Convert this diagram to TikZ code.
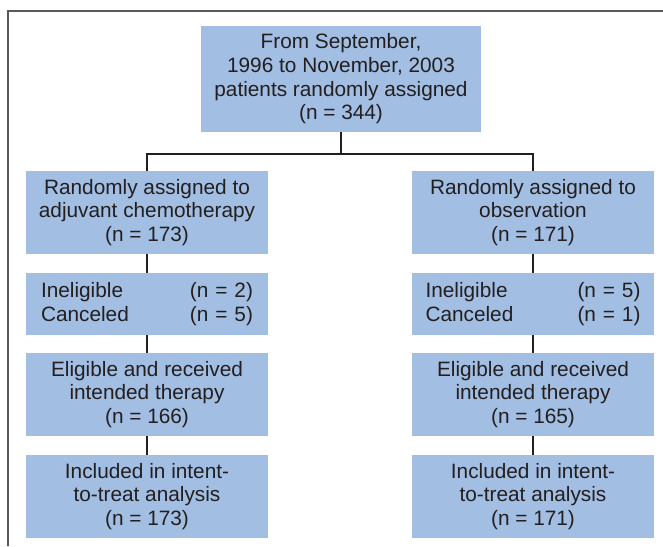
\documentclass[tikz,border=0pt]{standalone}
\usepackage{fontspec}
\setmainfont{Liberation Sans}
\definecolor{boxblue}{HTML}{A2BEE2}
\definecolor{inkgray}{HTML}{231F20}
\definecolor{framegray}{HTML}{58595B}
\begin{document}
\begin{tikzpicture}[x=1pt,y=-1pt]
\useasboundingbox (0,0) rectangle (663,546);
\draw[framegray,line width=1.5pt] (663,11) -| (8,546);

\begin{scope}[every node/.style={fill=boxblue,text=inkgray,inner sep=0pt,align=center,
    font=\fontsize{20.8}{23.6}\selectfont,minimum width=242pt}]
\node[minimum width=280pt,minimum height=106pt] (R) at (341,79)
  {From September,\\1996 to November, 2003\\patients randomly assigned\\(n = 344)};
\node[minimum height=83pt] (C1) at (147,212.5) {Randomly assigned to\\adjuvant chemotherapy\\(n = 173)};
\node[minimum height=83pt] (O1) at (533,212.5) {Randomly assigned to\\observation\\(n = 171)};
\node[minimum height=62pt,text width=212pt,align=left] (C2) at (147,304)
  {Ineligible\hfill(n = 2)\\Canceled\hfill(n = 5)};
\node[minimum height=62pt,text width=215pt,align=left] (O2) at (533,304)
  {Ineligible\hfill(n = 5)\\Canceled\hfill(n = 1)};
\node[minimum height=83pt] (C3) at (147,394.5) {Eligible and received\\intended therapy\\(n = 166)};
\node[minimum height=83pt] (O3) at (533,394.5) {Eligible and received\\intended therapy\\(n = 165)};
\node[minimum height=83pt] (C4) at (147,496.5) {Included in intent-\\to-treat analysis\\(n = 173)};
\node[minimum height=83pt] (O4) at (533,496.5) {Included in intent-\\to-treat analysis\\(n = 171)};
\end{scope}

\coordinate (split) at (341,154);
\begin{scope}[inkgray,line width=2pt]
    \draw (R) -- (split);
    \draw (C1.north) |- (split) -| (O1.north);
    \draw (C1) -- (C2);
    \draw (C2) -- (C3);
    \draw (C3) -- (C4);
    \draw (O1) -- (O2);
    \draw (O2) -- (O3);
    \draw (O3) -- (O4);
\end{scope}
\end{tikzpicture}
\end{document}
